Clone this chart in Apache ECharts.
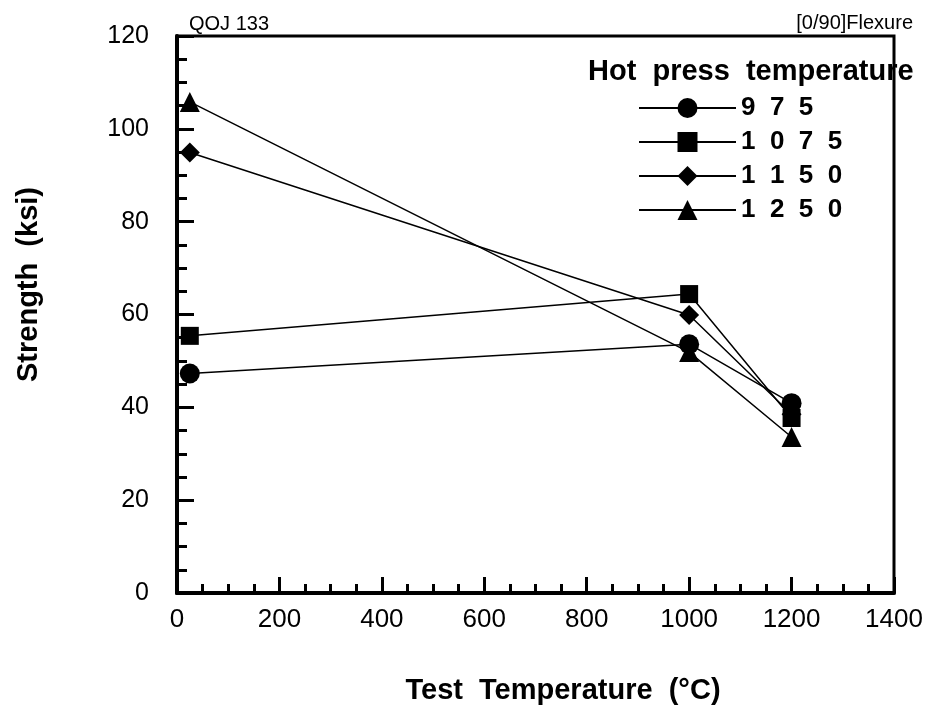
<!DOCTYPE html>
<html>
<head>
<meta charset="utf-8">
<script src="https://cdn.jsdelivr.net/npm/echarts@6/dist/echarts.min.js"></script>
<style>
  html, body { margin: 0; padding: 0; background: #fff; }
  #chart { width: 935px; height: 709px; }
</style>
</head>
<body>
<div id="chart"></div>
<script>
// test temperatures (°C)
const testTemps = [25, 1000, 1200];
// strength (ksi) per hot press temperature
const s975 = [47.3, 53.6, 40.9];
const s1075 = [55.4, 64.4, 37.7];
const s1150 = [94.9, 59.9, 38.5];
const s1250 = [105.8, 51.9, 33.6];

const names = ['975', '1075', '1150', '1250'];
const symbols = ['circle', 'rect', 'diamond', 'triangle'];
const sizes = [20, 18, 20, 20];
const values = [s975, s1075, s1150, s1250];

const font = 'Liberation Sans, Arial, Helvetica, sans-serif';

const chart = echarts.init(document.getElementById('chart'), null, { renderer: 'canvas' });

const series = names.map((n, i) => ({
    name: n,
    type: 'line',
    symbol: symbols[i],
    symbolSize: sizes[i],
    data: testTemps.map((t, j) => [t, values[i][j]]),
    lineStyle: { color: '#000', width: 1.5 },
    itemStyle: { color: '#000' },
    z: 3
}));

const option = {
    animation: false,
    backgroundColor: '#fff',
    title: [
        { text: 'QOJ 133', left: 184, top: 9, textStyle: { fontSize: 20, fontWeight: 'normal', fontFamily: font, color: '#000' } },
        { text: '[0/90]Flexure', right: 17, top: 8, textStyle: { fontSize: 20, fontWeight: 'normal', fontFamily: font, color: '#000' } },
        { text: 'Hot  press  temperature', left: 583, top: 52, textStyle: { fontSize: 29, fontWeight: 'bold', fontFamily: font, color: '#000' } }
    ],
    legend: {
        orient: 'vertical',
        left: 633,
        top: 90,
        itemWidth: 97,
        itemHeight: 25,
        itemGap: 8,
        data: names,
        formatter: n => n.split('').join('  '),
        textStyle: { fontSize: 26, fontWeight: 'bold', fontFamily: font, color: '#000' }
    },
    grid: {
        left: 177,
        right: 41,
        top: 36,
        bottom: 116,
        outerBoundsMode: 'none',
        containLabel: false,
        show: true,
        borderColor: '#000',
        borderWidth: 3
    },
    xAxis: {
        type: 'value',
        min: 0,
        max: 1400,
        interval: 200,
        name: 'Test  Temperature  (°C)',
        nameLocation: 'middle',
        nameGap: 83,
        nameTextStyle: { fontSize: 29, fontWeight: 'bold', fontFamily: font, color: '#000', padding: [0, 0, 0, 55] },
        axisLine: { lineStyle: { color: '#000', width: 4 } },
        axisTick: { inside: true, length: 16, lineStyle: { color: '#000', width: 3 } },
        minorTick: { show: true, splitNumber: 4, length: 9, lineStyle: { color: '#000', width: 3 } },
        splitLine: { show: false },
        axisLabel: { fontSize: 26, fontFamily: font, color: '#000', margin: 14, formatter: v => String(v) }
    },
    yAxis: {
        type: 'value',
        min: 0,
        max: 120,
        interval: 20,
        name: 'Strength  (ksi)',
        nameLocation: 'middle',
        nameGap: 134,
        nameTextStyle: { fontSize: 29, fontWeight: 'bold', fontFamily: font, color: '#000', padding: [0, 0, 0, 60] },
        axisLine: { lineStyle: { color: '#000', width: 4 } },
        axisTick: { inside: true, length: 17, lineStyle: { color: '#000', width: 3 } },
        minorTick: { show: true, splitNumber: 4, length: 10, lineStyle: { color: '#000', width: 3 } },
        splitLine: { show: false },
        axisLabel: { fontSize: 25, fontFamily: font, color: '#000', margin: 28 }
    },
    series: series
};

chart.setOption(option);
</script>
</body>
</html>
